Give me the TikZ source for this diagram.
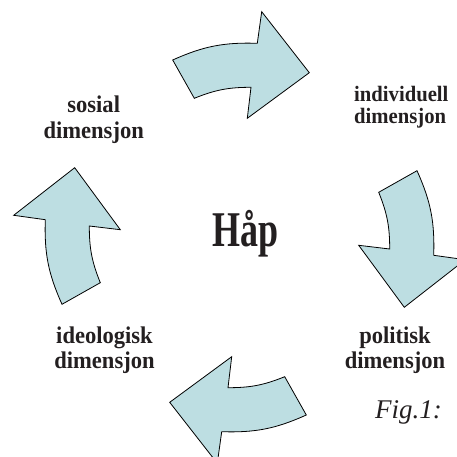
\documentclass[tikz,border=0pt]{standalone}
\usepackage{fontspec}
\setmainfont{Liberation Serif}
\newfontfamily\lblfont[FakeStretch=0.94]{Liberation Serif}
\newfontfamily\hapfont[FakeStretch=0.72]{Liberation Serif}
\definecolor{arrowfill}{RGB}{189,222,226}
\definecolor{textdark}{RGB}{35,31,32}
\tikzset{
  cyclearrow/.style={fill=arrowfill, draw=black, line width=0.8pt, line join=miter},
  lbl/.style={font=\lblfont\bfseries\fontsize{24}{25.5}\selectfont, text=textdark, align=center, inner sep=0pt, anchor=center},
  lblsmall/.style={font=\lblfont\bfseries\fontsize{22}{22.5}\selectfont, text=textdark, align=left, inner sep=0pt, anchor=west},
}
\begin{document}
\begin{tikzpicture}[x=1pt,y=-1pt]
\useasboundingbox (0,0) rectangle (456,457);
\coordinate (C) at (239.5,237.5);
\foreach \ang in {0,-90,-180,-270}{
  \begin{scope}[rotate around={\ang:(C)}]
    \draw[cyclearrow] (172.7,60) to[bend left=13] (257.3,43.3) -- (261.7,11.7)
      -- (309.3,72.7) -- (247.3,118.3) -- (251,87.3)
      to[bend right=11] (194.3,98.3) -- cycle;
  \end{scope}
}
\node[font=\hapfont\bfseries\fontsize{50}{60}\selectfont, text=textdark, inner sep=0pt, anchor=base] (hap) at (245.5,246.7) {Håp};
\node[lbl] (sosial) at (93.7,119.6) {sosial\\dimensjon};
\node[lblsmall] (indiv) at (354,107) {individuell\\dimensjon};
\node[lbl] (ideo) at (104.5,350.3) {ideologisk\\dimensjon};
\node[lbl] (polit) at (395,350.3) {politisk\\dimensjon};
\node[font=\itshape\fontsize{27}{30}\selectfont, text=textdark, inner sep=0pt, anchor=base west] (fig) at (375,418.3) {Fig.1:};
\end{tikzpicture}
\end{document}
